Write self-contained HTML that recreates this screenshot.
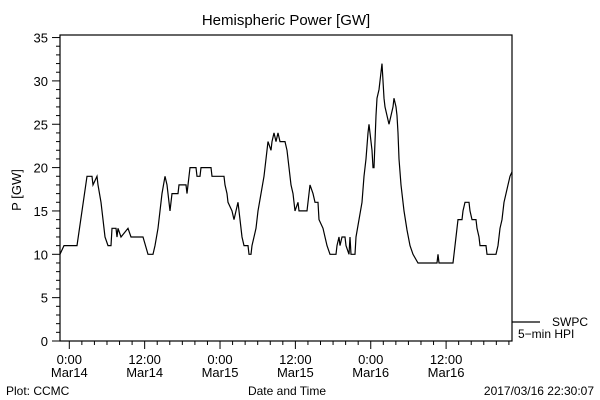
<!DOCTYPE html>
<html><head><meta charset="utf-8"><style>
body{margin:0;background:#fff;width:600px;height:400px;overflow:hidden}
svg{display:block;font-family:"Liberation Sans",sans-serif}
text{fill:#000}
</style></head><body>
<svg id="chart" width="600" height="400" viewBox="0 0 600 400">
<text x="286" y="25" font-size="15" text-anchor="middle">Hemispheric Power [GW]</text>
<text transform="translate(21,190) rotate(-90)" font-size="13" text-anchor="middle">P [GW]</text>
<text x="287" y="395" font-size="12" text-anchor="middle">Date and Time</text>
<text x="6" y="395" font-size="12">Plot: CCMC</text>
<text x="594" y="395" font-size="12" text-anchor="end">2017/03/16 22:30:07</text>
<rect x="60" y="35" width="452" height="306" fill="none" stroke="#000" stroke-width="1.2"/>
<g id="yaxis"></g>
<g id="xaxis"></g>
<polyline id="series" fill="none" stroke="#000" stroke-width="1.2"/>
<line x1="512" y1="322" x2="540" y2="322" stroke="#000" stroke-width="1.2"/>
<text x="552" y="326" font-size="12">SWPC</text>
<text x="518" y="338" font-size="12">5−min HPI</text>
</svg>
<script>
const hours=[
-1.48,-0.84,1.23,2.82,3.61,3.77,4.41,4.57,5.05,5.37,
5.68,6.16,6.64,6.80,7.44,7.60,7.75,8.23,9.35,9.82,
11.74,12.53,13.33,13.65,14.12,14.44,14.76,15.24,15.56,15.88,
16.04,16.35,17.31,17.47,18.58,18.74,18.90,19.06,19.22,20.18,
20.33,20.81,20.97,22.56,22.72,24.63,24.79,25.11,25.27,25.91,
26.23,26.54,26.86,27.18,27.50,27.82,28.46,28.61,28.93,29.09,
29.41,29.73,30.05,30.53,31.00,31.32,31.64,32.12,32.28,32.60,
32.91,33.23,33.55,34.35,34.67,34.98,35.30,35.62,35.94,36.42,
36.58,37.85,38.17,38.33,38.80,39.12,39.60,39.76,40.40,40.72,
41.03,41.51,42.47,42.63,42.95,43.10,43.42,43.90,44.06,44.54,
44.70,44.86,45.49,45.65,46.13,46.61,46.93,47.25,47.56,47.72,
47.88,48.20,48.36,48.52,48.68,48.84,48.99,49.31,49.47,49.79,
49.95,50.11,50.27,50.59,50.91,51.23,51.54,51.70,52.02,52.18,
52.34,52.50,52.82,53.29,53.77,54.25,54.73,55.53,58.55,58.71,
58.87,61.10,61.26,61.58,61.89,62.53,62.69,63.01,63.65,63.81,
64.12,64.76,64.92,65.24,65.40,66.35,66.51,67.95,68.27,68.58,
68.90,69.22,69.54,69.86,70.17,70.49];
const power=[
10,11,11,19,19,18,19,18,16,14,
12,11,11,13,13,12,13,12,13,12,
12,10,10,11,13,15,17,19,18,16,
15,17,17,18,18,17,18,19,20,20,
19,19,20,20,19,19,18,17,16,15,
14,15,16,14,12,11,11,10,10,11,
12,13,15,17,19,21,23,22,23,24,
23,24,23,23,22,20,18,17,15,16,
15,15,17,18,17,16,16,14,13,12,
11,10,10,11,12,11,12,12,11,10,
12,10,10,12,14,16,19,21,24,25,
24,22,20,20,23,26,28,29,30,32,
30,28,27,26,25,26,27,28,27,26,
24,21,18,15,12.8,11,10,9,9,10,
9,9,10,12,14,14,15,16,16,15,
14,14,13,12,11,11,10,10,11,13,
14,16,17,18,19,19.5];
const yTicks=[0,5,10,15,20,25,30,35];
const xTickHours=[0,12,24,36,48,60];
const xTickLabels=[["0:00","Mar14"],["12:00","Mar14"],["0:00","Mar15"],["12:00","Mar15"],["0:00","Mar16"],["12:00","Mar16"]];
const NS="http://www.w3.org/2000/svg";
function X(h){return 69.3+h*6.28;}
function Y(v){return 341-v*8.67;}
const ya=document.getElementById('yaxis'),xa=document.getElementById('xaxis');
function ln(g,x1,y1,x2,y2,name){const l=document.createElementNS(NS,'line');l.setAttribute('x1',x1);l.setAttribute('y1',y1);l.setAttribute('x2',x2);l.setAttribute('y2',y2);l.setAttribute('stroke','#000');


g.appendChild(l);}
function tx(g,x,y,s,anchor,name){const t=document.createElementNS(NS,'text');t.setAttribute('x',x);t.setAttribute('y',y);t.setAttribute('font-size','13');t.setAttribute('text-anchor',anchor);t.textContent=s;


g.appendChild(t);}
for(let v=0;v<=35;v++){const major=v%5===0;ln(ya,major?52:56,Y(v),60,Y(v),major?'y-major-tick':'y-minor-tick');}
yTicks.forEach(v=>tx(ya,48,Y(v)+5,String(v),'end','y-tick-label'));
for(let h=0;h<=70;h+=2){const major=h%12===0;ln(xa,X(h),341,X(h),major?349:345,major?'x-major-tick':'x-minor-tick');}
xTickHours.forEach((h,i)=>{tx(xa,X(h),364,xTickLabels[i][0],'middle','x-tick-label-time');tx(xa,X(h),377,xTickLabels[i][1],'middle','x-tick-label-date');});
const n=Math.min(hours.length,power.length);
const pts=[];for(let i=0;i<n;i++)pts.push(X(hours[i]).toFixed(1)+','+Y(power[i]).toFixed(1));
document.getElementById('series').setAttribute('points',pts.join(' '));
</script>
</body></html>
